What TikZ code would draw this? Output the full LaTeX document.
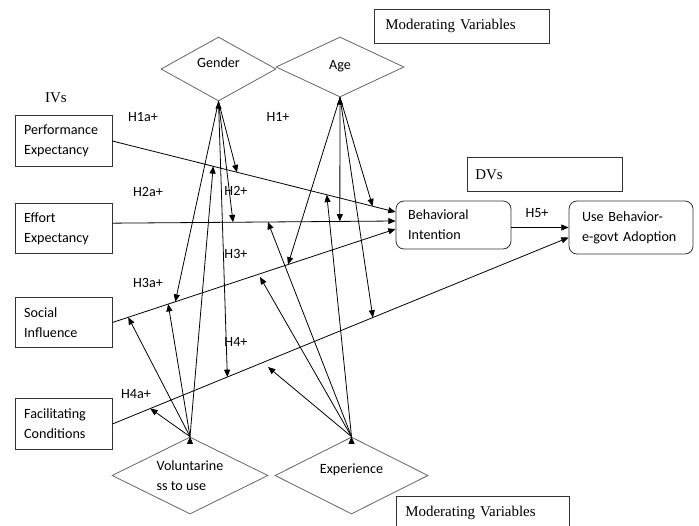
\documentclass[tikz,border=0pt]{standalone}
\usepackage{fontspec}
\setmainfont{Carlito}
\newfontfamily\timesfont{Liberation Serif}
\usetikzlibrary{shapes.geometric,arrows.meta}

\begin{document}
\begin{tikzpicture}[x=0.75pt, y=-0.75pt, line width=0.6pt,
    font=\fontsize{10.6}{15}\selectfont,
    ivbox/.style={draw=black!80, minimum width=72.75pt, minimum height=38pt,
      text width=59pt, inner xsep=6.8pt, align=left},
    dvbox/.style={draw=black!80, rounded corners=6pt, align=left},
    modnode/.style={diamond, aspect=2, draw=black!60, inner sep=0pt},
    tagbox/.style={draw=black!80, anchor=north west, minimum height=25.5pt,
      align=left, font=\timesfont\fontsize{11.2}{13}\selectfont},
    link/.style={-{Triangle[length=5.5pt,width=4.5pt]}, black}]
    \clip (0,0) rectangle (699,525);

    % Independent variables
    \node[ivbox] (pe) at (63.5,141) {Performance\\Expectancy};
    \node[ivbox] (ee) at (63.5,228.5) {Effort\\Expectancy};
    \node[ivbox] (si) at (63.5,322.5) {Social\\Influence};
    \node[ivbox] (fc) at (63.5,424) {Facilitating\\Conditions};
    \node[font=\timesfont\fontsize{11.2}{13}\selectfont] (ivs) at (56,98) {IVs};

    % Dependent variables
    \node[dvbox, minimum width=86.25pt, minimum height=36pt, text width=68pt,
      inner xsep=9pt] (bi) at (453.5,225) {Behavioral\\Intention};
    \node[dvbox, minimum width=93pt, minimum height=39.75pt, text width=73.5pt,
      inner xsep=9.75pt] (ub) at (631,227.5) {Use Behavior-\\e-govt Adoption};
    \node[tagbox, minimum width=116.25pt, text width=104.25pt, inner xsep=6pt]
      (dvs) at (467,157) {DVs};

    % Moderators
    \node[modnode, minimum width=86.25pt, minimum height=48pt, text depth=10pt]
      (gen) at (218.5,69) {Gender};
    \node[modnode, minimum width=96pt, minimum height=45pt, text depth=3pt]
      (age) at (340,67) {Age};
    \node[modnode, minimum width=117pt, minimum height=57.75pt, align=left]
      (vol) at (190,475.5) {Voluntarine\\ss to use};
    \node[modnode, minimum width=114.75pt, minimum height=57.75pt, text depth=11pt]
      (exp) at (351.5,475.5) {Experience};
    \node[tagbox, minimum width=131.25pt, text width=114.75pt, inner xsep=8.25pt]
      (modtop) at (374,9) {Moderating Variables};
    \node[tagbox, minimum width=129.75pt, text width=116.25pt, inner xsep=6.75pt]
      (modbot) at (396,496) {Moderating Variables};

    % Paths into the dependent variables
    \draw[link] (pe.east) -- coordinate[pos=0.356] (v1) coordinate[pos=0.44] (g1)
      coordinate[pos=0.757] (e1) coordinate[pos=0.919] (a2) ([yshift=9.75pt]bi.west);
    \draw[link] ([yshift=4pt]ee.east) -- coordinate[pos=0.426] (g2)
      coordinate[pos=0.549] (e2) coordinate[pos=0.803] (a1) ([yshift=3pt]bi.west);
    \draw[link] (si.east) -- coordinate[pos=0.056] (v2) coordinate[pos=0.197] (v3)
      coordinate[pos=0.222] (g3) coordinate[pos=0.62] (a3) ([yshift=-3pt]bi.west);
    \draw[link] (fc.east) -- coordinate[pos=0.083] (v4) coordinate[pos=0.252] (g4)
      coordinate[pos=0.571] (a4) ([yshift=-7.5pt]ub.west);
    \draw[link] (bi.east |- ub.west) -- (ub.west);
    \coordinate (e3) at (260,277);
    \coordinate (e4) at (268,367);

    % Moderating effects
    \draw[link] (gen.south) edge (g1) edge (g2) edge (g3) edge (g4);
    \draw[link] (age.south) edge (a1) edge (a2) edge (a3) edge (a4);
    \draw[link] (vol.north) edge (v1) edge (v2) edge (v3) edge (v4);
    \draw[link] (exp.north) edge (e1) edge (e2) edge (e3) edge (e4);

    % Hypotheses
    \node (h1a) at (143,117) {H1a+};
    \node (h1) at (278,117) {H1+};
    \node (h2a) at (148,192) {H2a+};
    \node (h2) at (236,191) {H2+};
    \node (h3) at (236,254) {H3+};
    \node (h3a) at (148,283) {H3a+};
    \node (h4) at (236,342) {H4+};
    \node (h4a) at (136,394) {H4a+};
    \node (h5) at (537,213) {H5+};

\end{tikzpicture}
\end{document}
